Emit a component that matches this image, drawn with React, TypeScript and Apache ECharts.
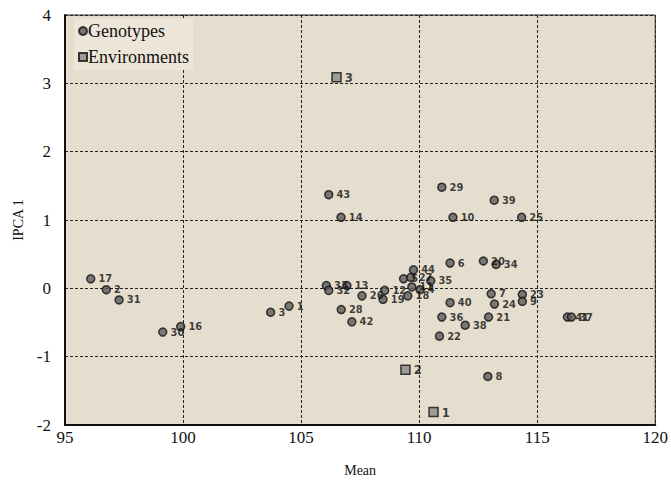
import React, { useEffect, useRef } from "react";
import * as echarts from "echarts";

const genoNames = ["17","2","31","30","16","3","1","33","32","13","28","42","26","12","19","5","27","44","11","4","18","35","43","14","29","39","10","25","6","20","34","7","24","23","9","40","36","21","38","22","8","41","37"];
const genoMean = [96.09,96.75,97.29,99.14,99.9,103.71,104.49,106.07,106.17,106.94,106.7,107.15,107.58,108.54,108.47,109.34,109.65,109.76,109.69,110.04,109.52,110.49,106.17,106.69,110.96,113.18,111.43,114.34,111.31,112.72,113.26,113.05,113.19,114.37,114.37,111.31,110.96,112.94,111.95,110.86,112.91,116.28,116.45];
const genoIPCA = [0.14,-0.02,-0.17,-0.64,-0.56,-0.35,-0.26,0.04,-0.03,0.04,-0.31,-0.49,-0.11,-0.03,-0.16,0.14,0.16,0.27,0.02,-0.02,-0.11,0.11,1.37,1.04,1.48,1.29,1.04,1.04,0.37,0.4,0.35,-0.08,-0.23,-0.09,-0.19,-0.21,-0.42,-0.42,-0.54,-0.7,-1.29,-0.42,-0.42];

const envNames = ["1","2","3"];
const envMean = [110.61,109.42,106.5];
const envIPCA = [-1.81,-1.19,3.09];

const xTicks = [95, 120, 5];
const yTicks = [-2, 4, 1];

export default function App() {
  const ref = useRef<HTMLDivElement>(null);
  useEffect(() => {
    if (!ref.current) return;
    const chart = echarts.init(ref.current, null, { renderer: "svg" });
    const serif = "Liberation Serif";
    const narrow = "DejaVu Sans Condensed, Liberation Sans, sans-serif";
    const gData = genoMean.map((m, i) => [m, genoIPCA[i], genoNames[i]]);
    const eData = envMean.map((m, i) => [m, envIPCA[i], envNames[i]]);
    chart.setOption({
      animation: false,
      backgroundColor: "#ffffff",
      grid: {
        left: 65, right: 13, top: 15, bottom: 58,
        show: true,
        backgroundColor: "#e5dece",
        borderColor: "#222",
        borderWidth: 1,
      },
      legend: {
        orient: "vertical",
        left: 74,
        top: 19,
        itemWidth: 8,
        itemHeight: 8,
        itemGap: 8,
        padding: [3, 4, 4, 4],
        backgroundColor: "#ece5d8",
        textStyle: { fontFamily: serif, fontSize: 18, color: "#111", padding: [0, 0, 0, -4] },
        data: [
          { name: "Genotypes", icon: "circle" },
          { name: "Environments", icon: "rect" },
        ],
      },
      xAxis: {
        type: "value",
        min: xTicks[0],
        max: xTicks[1],
        interval: xTicks[2],
        name: "Mean",
        nameLocation: "middle",
        nameGap: 38,
        nameTextStyle: { fontFamily: serif, fontSize: 14, color: "#111" },
        axisLine: { show: true, onZero: false, lineStyle: { color: "#111", width: 2 } },
        axisTick: { show: false },
        axisLabel: { fontFamily: serif, fontSize: 17, color: "#111", margin: 4 },
        splitLine: { show: true, lineStyle: { color: "#222", type: [3, 2], width: 1 } },
      },
      yAxis: {
        type: "value",
        min: yTicks[0],
        max: yTicks[1],
        interval: yTicks[2],
        name: "IPCA 1",
        nameLocation: "middle",
        nameGap: 38,
        nameTextStyle: { fontFamily: serif, fontSize: 14, color: "#111" },
        axisLine: { show: true, onZero: false, lineStyle: { color: "#111", width: 2 } },
        axisTick: { show: false },
        axisLabel: { fontFamily: serif, fontSize: 17, color: "#111", margin: 14 },
        splitLine: { show: true, lineStyle: { color: "#222", type: [3, 2], width: 1 } },
      },
      series: [
        {
          name: "Genotypes",
          type: "scatter",
          symbol: "circle",
          symbolSize: 8,
          data: gData,
          itemStyle: { color: "#5c5c5c", borderColor: "#111", borderWidth: 1.5 },
          label: {
            show: true,
            position: "right",
            distance: 3,
            formatter: (p: any) => p.value[2],
            fontFamily: narrow,
            fontWeight: "bold",
            fontSize: 11,
            color: "#111",
          },
          z: 3,
        },
        {
          name: "Environments",
          type: "scatter",
          symbol: "rect",
          symbolSize: 9,
          data: eData,
          itemStyle: { color: "#8a8a8a", borderColor: "#111", borderWidth: 1.5 },
          label: {
            show: true,
            position: "right",
            distance: 3,
            formatter: (p: any) => p.value[2],
            fontFamily: narrow,
            fontWeight: "bold",
            fontSize: 13,
            color: "#111",
          },
          z: 3,
        },
      ],
    });
    return () => chart.dispose();
  }, []);
  return <div ref={ref} style={{ width: 671, height: 483, position: "absolute", left: 0, top: 0 }} />;
}
